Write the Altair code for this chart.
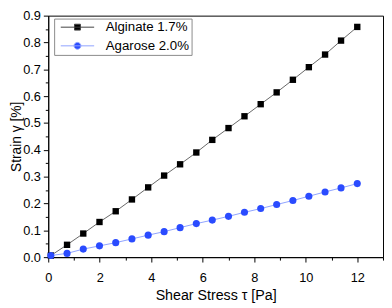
import altair as alt
import pandas as pd

series_names = ["Alginate 1.7%", "Agarose 2.0%"]
stress = [0.1, 0.73, 1.36, 1.99, 2.62, 3.25, 3.88, 4.5, 5.12, 5.75,
          6.37, 7.0, 7.62, 8.25, 8.87, 9.5, 10.12, 10.75, 11.37, 12.0]
alginate = [0.006, 0.046, 0.088, 0.131, 0.171, 0.215, 0.26, 0.304, 0.346, 0.39,
            0.437, 0.481, 0.525, 0.570, 0.614, 0.661, 0.708, 0.755, 0.807, 0.858]
agarose = [0.006, 0.014, 0.030, 0.042, 0.054, 0.068, 0.082, 0.095, 0.110, 0.125,
           0.138, 0.152, 0.167, 0.181, 0.196, 0.211, 0.227, 0.243, 0.258, 0.274]
x_ticks = [0, 1, 2, 3, 4, 5, 6, 7, 8, 9, 10, 11, 12, 13]
y_ticks = [0.0, 0.05, 0.1, 0.15, 0.2, 0.25, 0.3, 0.35, 0.4, 0.45,
           0.5, 0.55, 0.6, 0.65, 0.7, 0.75, 0.8, 0.85, 0.9]

df = pd.DataFrame({
    "stress": stress + stress,
    "strain": alginate + agarose,
    "series": [series_names[0]] * len(stress) + [series_names[1]] * len(stress),
})

FONT = "Liberation Sans"
x_enc = alt.X(
    "stress:Q",
    scale=alt.Scale(domain=[0, 13], nice=False, zero=False),
    axis=alt.Axis(
        values=x_ticks,
        labelExpr="datum.value % 2 === 0 ? datum.label : ''",
        tickSize={"condition": {"test": "datum.value % 2 === 0", "value": 5}, "value": 3},
        title="Shear Stress τ [Pa]",
        titlePadding=4,
        titleFontSize=14.5,
        labelPadding=10,
        labelFlush=False,
        grid=False,
    ),
)
y_enc = alt.Y(
    "strain:Q",
    scale=alt.Scale(domain=[0, 0.9], nice=False),
    axis=alt.Axis(
        values=y_ticks,
        labelExpr="round(datum.value * 100) % 10 === 0 ? format(datum.value, '.1f') : ''",
        tickSize={"condition": {"test": "round(datum.value * 100) % 10 === 0", "value": 5}, "value": 3},
        title="Strain γ [%]",
        titlePadding=-1,
        titleFontSize=14,
        labelPadding=3,
        labelFlush=False,
        grid=False,
    ),
)

base = alt.Chart(df).encode(x=x_enc, y=y_enc)

line_a = base.transform_filter(alt.datum.series == series_names[0]).mark_line(
    color="#404040", strokeWidth=0.8)
line_b = base.transform_filter(alt.datum.series == series_names[1]).mark_line(
    color="#8ea2ff", strokeWidth=1)
pts_a = base.transform_filter(alt.datum.series == series_names[0]).mark_square(
    color="#000000", size=42, opacity=1)
pts_b = base.transform_filter(alt.datum.series == series_names[1]).mark_circle(
    color="#2a4bff", size=52, opacity=1)

path_a = "M-4.25,0H4.25M-0.75,-0.75H0.75V0.75H-0.75Z"
path_b = "M-4.25,0H4.25M0.875,0A0.875,0.875,0,1,1,-0.875,0A0.875,0.875,0,1,1,0.875,0Z"

leg = alt.Legend(
    title=None,
    orient="none",
    legendX=6,
    legendY=3,
    strokeColor="#8a8a8a",
    padding=2,
    symbolSize=64,
    symbolStrokeWidth=1,
    symbolOffset=15,
    labelOffset=22,
    labelFont=FONT,
    labelFontSize=13.5,
    labelColor="#000000",
    rowPadding=4,
    fillColor="#ffffff",
)

legend_layer = base.transform_filter("datum.stress < -100").mark_point(
    filled=True, size=64, strokeWidth=1, opacity=1
).encode(
    shape=alt.Shape("series:N", scale=alt.Scale(domain=series_names, range=[path_a, path_b]), legend=leg),
    fill=alt.Fill("series:N", scale=alt.Scale(domain=series_names, range=["#000000", "#2a4bff"]), legend=leg),
    stroke=alt.Stroke("series:N", scale=alt.Scale(domain=series_names, range=["#404040", "#8ea2ff"]), legend=leg),
)

chart = alt.layer(line_a, line_b, pts_a, pts_b, legend_layer).properties(
    width=341,
    height=246,
    autosize=alt.AutoSizeParams(type="none"),
    padding={"left": 41, "top": 5, "right": 1, "bottom": 48},
).configure_view(
    stroke="#000000", strokeWidth=1
).configure_axis(
    domainColor="#000000",
    tickColor="#000000",
    labelColor="#000000",
    titleColor="#000000",
    labelFont=FONT,
    titleFont=FONT,
    labelFontSize=13,
    titleFontWeight="normal",
)

chart.save("out.html", embed_options={"renderer": "svg", "actions": False})
